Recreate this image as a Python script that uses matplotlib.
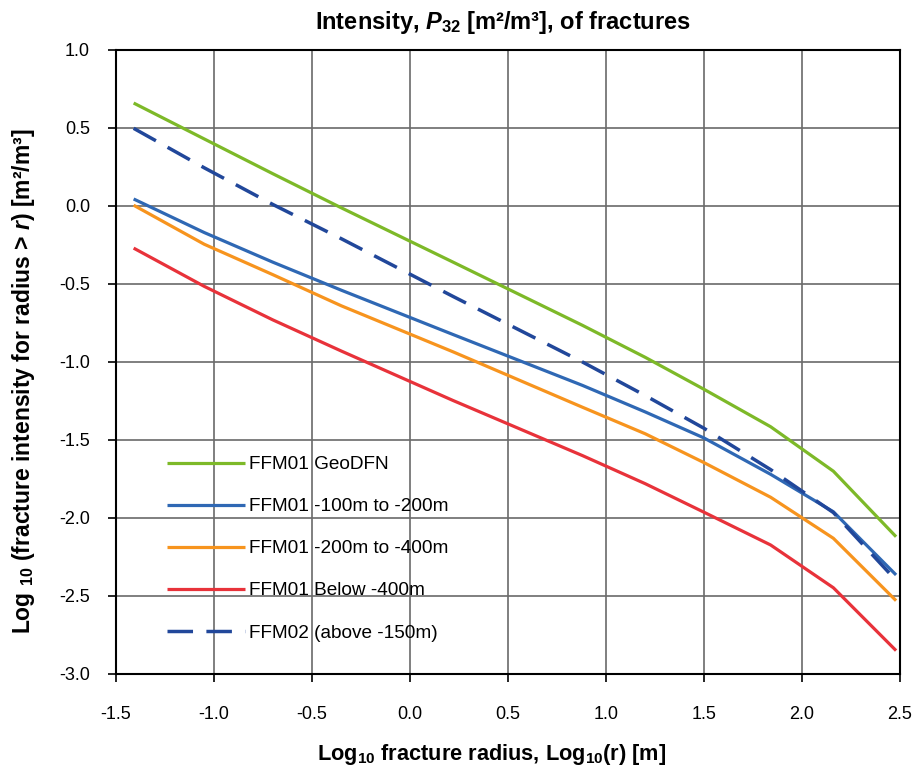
import matplotlib
matplotlib.use("Agg")
import matplotlib.pyplot as plt

plt.rcParams['font.family'] = ['Liberation Sans', 'DejaVu Sans']
plt.rcParams['mathtext.fontset'] = 'custom'
plt.rcParams['mathtext.rm'] = 'Liberation Sans:bold'
plt.rcParams['mathtext.bf'] = 'Liberation Sans:bold'
plt.rcParams['mathtext.it'] = 'Liberation Sans:bold:italic'

# log10 fracture radius at the curve vertices
x_vals = [-1.41, -1.05, -0.7, -0.35, 0.22, 0.88, 1.2, 1.5, 1.84, 2.16, 2.48]

geodfn      = [0.66, 0.43, 0.207, -0.012, -0.36, -0.765, -0.97, -1.175, -1.415, -1.70, -2.12]
ffm01_100   = [0.045, -0.17, -0.36, -0.54, -0.824, -1.15, -1.32, -1.487, -1.72, -1.96, -2.365]
ffm01_200   = [0.005, -0.245, -0.44, -0.64, -0.935, -1.29, -1.46, -1.645, -1.867, -2.13, -2.53]
ffm01_below = [-0.27, -0.515, -0.73, -0.93, -1.247, -1.60, -1.78, -1.963, -2.173, -2.447, -2.85]
ffm02       = [0.498, 0.245, 0.01, -0.21, -0.58, -1.0, -1.215, -1.425, -1.69, -1.965, -2.40]

labels = ["FFM01 GeoDFN", "FFM01 -100m to -200m", "FFM01 -200m to -400m",
          "FFM01 Below -400m", "FFM02 (above -150m)"]
colors = ["#7DB928", "#2F68B4", "#F7941E", "#E8323A", "#21479A"]

x_ticks = [-1.5, -1.0, -0.5, 0.0, 0.5, 1.0, 1.5, 2.0, 2.5]
y_ticks = [1.0, 0.5, 0.0, -0.5, -1.0, -1.5, -2.0, -2.5, -3.0]

W, H = 913, 767
fig = plt.figure(figsize=(W / 100, H / 100), dpi=100)
ax = fig.add_axes([116 / W, (H - 674) / H, 784 / W, 624 / H])

series = [geodfn, ffm01_100, ffm01_200, ffm01_below]
for s, lab, c in zip(series, labels[:4], colors[:4]):
    ax.plot(x_vals, s, color=c, lw=2.3, label=lab, solid_capstyle='butt', zorder=3)
ln, = ax.plot(x_vals, ffm02, color=colors[4], lw=2.5, label=labels[4], zorder=3)
ln.set_dashes((7.35, 3.85))

ax.set_xlim(-1.5, 2.5)
ax.set_ylim(-3.0, 1.0)
ax.set_xticks(x_ticks)
ax.set_yticks(y_ticks)
ax.set_xticklabels([f"{v:.1f}" for v in x_ticks])
ax.set_yticklabels([f"{v:.1f}" for v in y_ticks])
ax.grid(True, color="#6a6a6a", lw=1.2, zorder=0)
ax.tick_params(axis='both', direction='out', length=5.8, width=1.2, labelsize=13, colors='black')
ax.tick_params(axis='y', pad=13)
ax.tick_params(axis='x', pad=17)
for sp in ax.spines.values():
    sp.set_color('black')
    sp.set_linewidth(1.5)

ax.set_ylabel("Log $_{10}$ (fracture intensity for radius > $r$) [m²/m³]",
              fontsize=16.5, fontweight='bold')
ax.yaxis.set_label_coords((37 - 116) / 784, (674 - 381) / 624)
ax.set_xlabel("Log$_{10}$ fracture radius, Log$_{10}$(r) [m]", fontsize=15.7, fontweight='bold')
ax.xaxis.set_label_coords((492 - 116) / 784, (674 - 742) / 624)

fig.text(503 / W, 1 - 22 / H, "Intensity, $P_{32}$ [m²/m³], of fractures",
         ha='center', va='center', fontsize=17, fontweight='bold')

leg = ax.legend(loc='upper left', bbox_to_anchor=((167 - 116) / 784, (674 - 456) / 624),
                frameon=False, fontsize=13.7, handlelength=4.1, handletextpad=0.2,
                labelspacing=1.3, borderpad=0, borderaxespad=0)

fig.savefig("out.png", dpi=100)
